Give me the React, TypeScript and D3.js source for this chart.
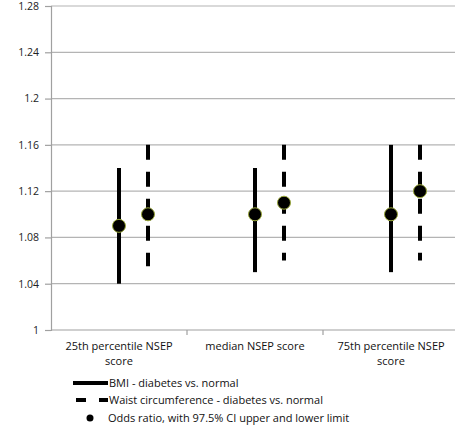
import React, { useEffect, useRef } from "react";
import * as d3 from "d3";

// categories on the x axis (two label lines each)
const categories = ["25th percentile NSEP score", "median NSEP score", "75th percentile NSEP score"];
const categoryLines = [["25th percentile NSEP", "score"], ["median NSEP score"], ["75th percentile NSEP", "score"]];

// BMI - diabetes vs. normal
const bmiOdds = [1.09, 1.1, 1.1];
const bmiLower = [1.04, 1.05, 1.05];
const bmiUpper = [1.14, 1.14, 1.16];

// Waist circumference - diabetes vs. normal
const waistOdds = [1.1, 1.11, 1.12];
const waistLower = [1.055, 1.06, 1.06];
const waistUpper = [1.16, 1.16, 1.16];

const yTicks = [1, 1.04, 1.08, 1.12, 1.16, 1.2, 1.24, 1.28];

const W = 455;
const H = 436;
const font = "'Open Sans', 'DejaVu Sans', sans-serif";

export default function App() {
  const ref = useRef<SVGSVGElement>(null);

  useEffect(() => {
    const svg = d3.select(ref.current);
    svg.selectAll("*").remove();

    const left = 51;
    const top = 6;
    const bottom = 330;

    const x = d3.scaleBand().domain(categories).range([left, left + 136 * 3]);
    const y = d3.scaleLinear().domain([1, 1.28]).range([bottom, top]);

    // gridlines
    svg.append("g")
      .selectAll("line")
      .data(yTicks.slice(1))
      .join("line")
      .attr("x1", left)
      .attr("x2", W)
      .attr("y1", d => y(d))
      .attr("y2", d => y(d))
      .attr("stroke", "#b4b4b4")
      .attr("stroke-width", 1.2);

    // y axis
    const yAxis = svg.append("g")
      .attr("transform", `translate(${left},0)`)
      .call(d3.axisLeft(y).tickValues(yTicks).tickSize(6).tickPadding(6).tickFormat(d => String(+d)));
    yAxis.select(".domain").attr("stroke", "#a0a0a0").attr("stroke-width", 1.2);
    yAxis.selectAll(".tick line").attr("stroke", "#a0a0a0").attr("stroke-width", 1.2);
    yAxis.selectAll(".tick text")
      .attr("fill", "#222")
      .attr("font-family", font)
      .attr("font-size", 10.5);

    // x axis
    const xAxis = svg.append("g").attr("transform", `translate(0,${bottom})`);
    xAxis.append("line")
      .attr("x1", left).attr("x2", W).attr("y1", 0).attr("y2", 0)
      .attr("stroke", "#a0a0a0").attr("stroke-width", 1.2);
    xAxis.selectAll(".tk")
      .data(categories.slice(1))
      .join("line")
      .attr("class", "tk")
      .attr("x1", d => x(d)!)
      .attr("x2", d => x(d)!)
      .attr("y1", 0)
      .attr("y2", 5)
      .attr("stroke", "#a0a0a0")
      .attr("stroke-width", 1.2);

    categories.forEach((c, i) => {
      const t = xAxis.append("text")
        .attr("x", x(c)! + x.bandwidth() / 2)
        .attr("y", 20)
        .attr("text-anchor", "middle")
        .attr("font-family", font)
        .attr("font-size", 11)
        .attr("fill", "#111");
      categoryLines[i].forEach((line, j) => {
        t.append("tspan")
          .attr("x", x(c)! + x.bandwidth() / 2)
          .attr("dy", j === 0 ? 0 : 15)
          .text(line);
      });
    });

    const bmiX = (c: string) => x(c)! + x.bandwidth() / 2;
    const waistX = (c: string) => x(c)! + x.bandwidth() / 2 + 29;

    // BMI whiskers
    svg.append("g")
      .selectAll("line")
      .data(categories)
      .join("line")
      .attr("x1", d => bmiX(d))
      .attr("x2", d => bmiX(d))
      .attr("y1", (d, i) => y(bmiLower[i]))
      .attr("y2", (d, i) => y(bmiUpper[i]))
      .attr("stroke", "#000")
      .attr("stroke-width", 4);

    // waist whiskers (dashed, drawn from top)
    svg.append("g")
      .selectAll("line")
      .data(categories)
      .join("line")
      .attr("x1", d => waistX(d))
      .attr("x2", d => waistX(d))
      .attr("y1", (d, i) => y(waistUpper[i]))
      .attr("y2", (d, i) => y(waistLower[i]))
      .attr("stroke", "#000")
      .attr("stroke-width", 4)
      .attr("stroke-dasharray", "15,12");

    // odds ratio markers
    const pts = categories.flatMap((c, i) => [
      { cx: bmiX(c), v: bmiOdds[i] },
      { cx: waistX(c), v: waistOdds[i] },
    ]);
    svg.append("g")
      .selectAll("circle")
      .data(pts)
      .join("circle")
      .attr("cx", d => d.cx)
      .attr("cy", d => y(d.v))
      .attr("r", 6.5)
      .attr("fill", "#000")
      .attr("stroke", "#9aa83a")
      .attr("stroke-width", 1);

    // legend
    const lg = svg.append("g").attr("font-family", font).attr("font-size", 11).attr("fill", "#111");
    lg.append("line").attr("x1", 73).attr("x2", 108).attr("y1", 383).attr("y2", 383)
      .attr("stroke", "#000").attr("stroke-width", 4);
    lg.append("text").attr("x", 109).attr("y", 387).text("BMI - diabetes vs. normal");
    lg.append("line").attr("x1", 76).attr("x2", 108).attr("y1", 400).attr("y2", 400)
      .attr("stroke", "#000").attr("stroke-width", 4).attr("stroke-dasharray", "10,13");
    lg.append("text").attr("x", 109).attr("y", 404).text("Waist circumference - diabetes vs. normal");
    lg.append("circle").attr("cx", 90).attr("cy", 418).attr("r", 3.5).attr("fill", "#000");
    lg.append("text").attr("x", 108).attr("y", 422).text("Odds ratio, with 97.5% CI upper and lower limit");
  }, []);

  return (
    <svg
      ref={ref}
      width={W}
      height={H}
      style={{ position: "absolute", left: 0, top: 0, background: "#fff" }}
    />
  );
}
